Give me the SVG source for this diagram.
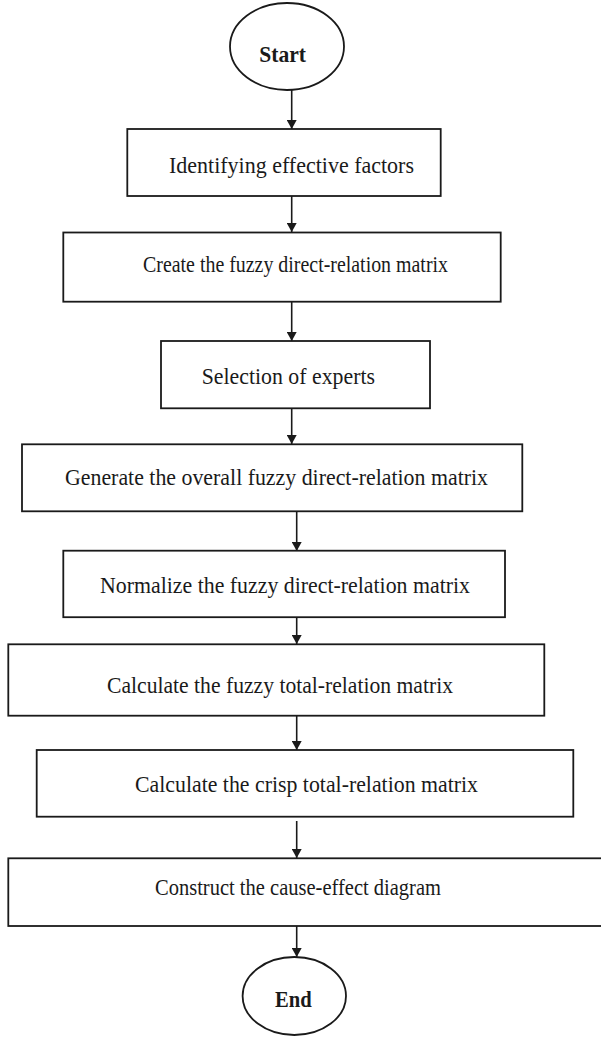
<svg xmlns="http://www.w3.org/2000/svg" width="601" height="1037" viewBox="0 0 601 1037">
<defs>
<style>
.box{fill:#ffffff;stroke:#1a1a1a;stroke-width:1.8}
.lbl{font-family:"Liberation Serif","Times New Roman",serif;font-size:23px;fill:#1a1a1a}
.term{font-family:"Liberation Serif","Times New Roman",serif;font-size:24px;font-weight:bold;fill:#1a1a1a}
.conn{stroke:#1a1a1a;stroke-width:1.6;fill:none;marker-end:url(#arr)}
</style>
<marker id="arr" markerWidth="9" markerHeight="10" refX="9" refY="5" orient="auto" markerUnits="userSpaceOnUse">
<path d="M0,0 L9,5 L0,10 Z" fill="#1a1a1a"/>
</marker>
</defs>
<rect width="601" height="1037" fill="#ffffff"/>
<g id="connectors">
<line class="conn" x1="291.7" y1="90" x2="291.7" y2="129"/>
<line class="conn" x1="291.7" y1="196" x2="291.7" y2="232"/>
<line class="conn" x1="291.7" y1="302" x2="291.7" y2="341"/>
<line class="conn" x1="291.7" y1="408" x2="291.7" y2="444"/>
<line class="conn" x1="296.7" y1="511" x2="296.7" y2="551"/>
<line class="conn" x1="296.7" y1="614" x2="296.7" y2="644"/>
<line class="conn" x1="296.7" y1="716" x2="296.7" y2="750"/>
<line class="conn" x1="296.7" y1="821" x2="296.7" y2="858"/>
<line class="conn" x1="296.7" y1="926" x2="296.7" y2="957"/>
</g>
<g id="start">
<ellipse class="box" cx="287" cy="46.5" rx="57" ry="43.5"/>
<text class="term" x="259.3" y="62" textLength="46.7" lengthAdjust="spacingAndGlyphs">Start</text>
</g>
<g id="n1">
<rect class="box" x="127.3" y="129" width="313.4" height="67"/>
<text class="lbl" x="169" y="173" textLength="245" lengthAdjust="spacingAndGlyphs">Identifying effective factors</text>
</g>
<g id="n2">
<rect class="box" x="63.3" y="232.5" width="437.4" height="69.2"/>
<text class="lbl" x="143" y="272" textLength="305" lengthAdjust="spacingAndGlyphs">Create the fuzzy direct-relation matrix</text>
</g>
<g id="n3">
<rect class="box" x="161" y="341" width="269" height="67.3"/>
<text class="lbl" x="201.7" y="384" textLength="173.3" lengthAdjust="spacingAndGlyphs">Selection of experts</text>
</g>
<g id="n4">
<rect class="box" x="22" y="444.3" width="500.3" height="67"/>
<text class="lbl" x="65" y="485" textLength="423" lengthAdjust="spacingAndGlyphs">Generate the overall fuzzy direct-relation matrix</text>
</g>
<g id="n5">
<rect class="box" x="63.3" y="550.7" width="441.7" height="66.5"/>
<text class="lbl" x="100" y="593" textLength="370" lengthAdjust="spacingAndGlyphs">Normalize the fuzzy direct-relation matrix</text>
</g>
<g id="n6">
<rect class="box" x="8.3" y="644.3" width="536" height="71.4"/>
<text class="lbl" x="107" y="693" textLength="346" lengthAdjust="spacingAndGlyphs">Calculate the fuzzy total-relation matrix</text>
</g>
<g id="n7">
<rect class="box" x="36.7" y="750" width="536.6" height="66.7"/>
<text class="lbl" x="135" y="791.7" textLength="343" lengthAdjust="spacingAndGlyphs">Calculate the crisp total-relation matrix</text>
</g>
<g id="n8">
<rect class="box" x="8.3" y="858.3" width="596" height="67.7"/>
<text class="lbl" x="155" y="895" textLength="286" lengthAdjust="spacingAndGlyphs">Construct the cause-effect diagram</text>
</g>
<g id="end">
<ellipse class="box" cx="294.3" cy="996" rx="51.7" ry="39"/>
<text class="term" x="275" y="1006.7" textLength="36.7" lengthAdjust="spacingAndGlyphs">End</text>
</g>
</svg>
